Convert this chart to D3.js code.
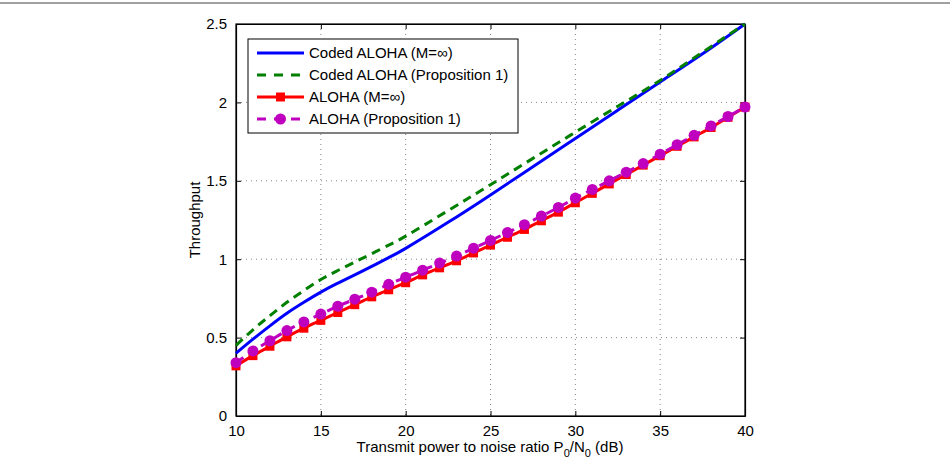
<!DOCTYPE html>
<html>
<head>
<meta charset="utf-8">
<script src="https://cdn.jsdelivr.net/npm/d3@7"></script>
<style>
  body { margin: 0; background: white; }
  svg text { font-family: "Liberation Sans", Arial, Helvetica, sans-serif; }
</style>
</head>
<body>
<script>
// data
const codedDb = [10, 11, 12, 13, 14, 15, 16, 17, 18, 19, 20, 22.5, 25, 27.5, 30, 32.5, 35, 37.5, 40]
const codedInf = [0.40, 0.49, 0.575, 0.655, 0.725, 0.79, 0.847, 0.90, 0.954, 1.01, 1.069, 1.235, 1.41, 1.59, 1.77, 1.95, 2.13, 2.31, 2.50]
const codedProp = [0.45, 0.55, 0.64, 0.725, 0.80, 0.87, 0.928, 0.982, 1.035, 1.09, 1.147, 1.31, 1.475, 1.643, 1.81, 1.975, 2.14, 2.32, 2.50]

const alohaDb = d3.range(10, 41)
const alohaInf = [0.32, 0.385, 0.445, 0.505, 0.56, 0.61, 0.66, 0.71, 0.76, 0.805, 0.85,
                  0.90, 0.945, 0.99, 1.04, 1.09, 1.14, 1.19, 1.245, 1.30, 1.36,
                  1.42, 1.48, 1.54, 1.60, 1.66, 1.72, 1.78, 1.84, 1.905, 1.97]
const alohaProp = [0.34, 0.415, 0.48, 0.545, 0.60, 0.65, 0.70, 0.745, 0.79, 0.84, 0.885,
                   0.93, 0.975, 1.02, 1.07, 1.12, 1.17, 1.22, 1.275, 1.33, 1.39,
                   1.445, 1.50, 1.555, 1.61, 1.67, 1.73, 1.79, 1.85, 1.91, 1.97]

const xTicks = [10, 15, 20, 25, 30, 35, 40]
const yTicks = [0, 0.5, 1, 1.5, 2, 2.5]
const legendLabels = ["Coded ALOHA (M=\u221e)", "Coded ALOHA (Proposition 1)", "ALOHA (M=\u221e)", "ALOHA (Proposition 1)"]

const svg = d3.select("body").append("svg")
    .attr("width", 950)
    .attr("height", 460)

// thin grey rule on top of the page
svg.append("line")
    .attr("x1", 0).attr("x2", 950)
    .attr("y1", 3).attr("y2", 3)
    .style("stroke", "#a0a0a0")
    .style("stroke-width", 2)

const pLeft = 236, pRight = 745, pTop = 24, pBottom = 416

const x = d3.scaleLinear().domain([10, 40]).range([pLeft, pRight])
const y = d3.scaleLinear().domain([0, 2.5]).range([pBottom, pTop])

// grid
svg.selectAll(".vgrid")
    .data(xTicks.slice(1, -1))
    .join("line")
    .attr("class", "vgrid")
    .attr("x1", d => x(d)).attr("x2", d => x(d))
    .attr("y1", pTop).attr("y2", pBottom)
    .style("stroke", "#666")
    .style("stroke-width", 0.8)
    .style("stroke-dasharray", "1,4")

svg.selectAll(".hgrid")
    .data(yTicks.slice(1, -1))
    .join("line")
    .attr("class", "hgrid")
    .attr("x1", pLeft).attr("x2", pRight)
    .attr("y1", d => y(d)).attr("y2", d => y(d))
    .style("stroke", "#666")
    .style("stroke-width", 0.8)
    .style("stroke-dasharray", "1,4")

// axes with inward ticks
svg.append("g")
    .attr("transform", `translate(0,${pBottom})`)
    .call(d3.axisBottom(x).tickValues(xTicks).tickSizeInner(-5).tickSizeOuter(0).tickPadding(9).tickFormat(d3.format("d")))
svg.append("g")
    .attr("transform", `translate(0,${pTop})`)
    .call(d3.axisTop(x).tickValues(xTicks).tickSizeInner(-5).tickSizeOuter(0).tickFormat(""))
svg.append("g")
    .attr("transform", `translate(${pLeft},0)`)
    .call(d3.axisLeft(y).tickValues(yTicks).tickSizeInner(-5).tickSizeOuter(0).tickPadding(9).tickFormat(d => d))
svg.append("g")
    .attr("transform", `translate(${pRight},0)`)
    .call(d3.axisRight(y).tickValues(yTicks).tickSizeInner(-5).tickSizeOuter(0).tickFormat(""))

svg.selectAll(".domain").style("stroke", "#000").style("stroke-width", 1.2)
svg.selectAll(".tick line").style("stroke", "#000")
svg.selectAll(".tick text").style("font-size", "15px").style("fill", "#000")

// box
svg.append("rect")
    .attr("x", pLeft).attr("y", pTop)
    .attr("width", pRight - pLeft).attr("height", pBottom - pTop)
    .style("fill", "none")
    .style("stroke", "#000")
    .style("stroke-width", 1.2)

// series
const line = d3.line().x(d => x(d[0])).y(d => y(d[1])).curve(d3.curveMonotoneX)
const smooth = d3.line().x(d => x(d[0])).y(d => y(d[1])).curve(d3.curveNatural)

const plot = svg.append("g")

plot.append("path")
    .datum(d3.zip(alohaDb, alohaInf))
    .attr("d", line)
    .style("fill", "none")
    .style("stroke", "#ff0000")
    .style("stroke-width", 3)

plot.selectAll(".sq")
    .data(d3.zip(alohaDb, alohaInf))
    .join("rect")
    .attr("class", "sq")
    .attr("x", d => x(d[0]) - 4.5)
    .attr("y", d => y(d[1]) - 4.5)
    .attr("width", 9).attr("height", 9)
    .style("fill", "#ff0000")

plot.append("path")
    .datum(d3.zip(alohaDb, alohaProp))
    .attr("d", line)
    .style("fill", "none")
    .style("stroke", "#bf00bf")
    .style("stroke-width", 3)
    .style("stroke-dasharray", "9,6")

plot.selectAll(".circ")
    .data(d3.zip(alohaDb, alohaProp))
    .join("circle")
    .attr("class", "circ")
    .attr("cx", d => x(d[0]))
    .attr("cy", d => y(d[1]))
    .attr("r", 5.5)
    .style("fill", "#bf00bf")

plot.append("path")
    .datum(d3.zip(codedDb, codedInf))
    .attr("d", smooth)
    .style("fill", "none")
    .style("stroke", "#0000ff")
    .style("stroke-width", 3)

plot.append("path")
    .datum(d3.zip(codedDb, codedProp))
    .attr("d", smooth)
    .style("fill", "none")
    .style("stroke", "#007f00")
    .style("stroke-width", 3)
    .style("stroke-dasharray", "9,6")

// legend
const legend = svg.append("g")
legend.append("rect")
    .attr("x", 248).attr("y", 39)
    .attr("width", 270).attr("height", 94)
    .style("fill", "white")
    .style("stroke", "#000")
    .style("stroke-width", 1)

const styles = [
    { color: "#0000ff", dash: null, marker: null },
    { color: "#007f00", dash: "9,8", marker: null },
    { color: "#ff0000", dash: null, marker: "square" },
    { color: "#bf00bf", dash: "9,8", marker: "circle" }
]

legendLabels.forEach((lab, i) => {
    const ly = 53 + i * 22
    const s = styles[i]
    legend.append("line")
        .attr("x1", 257).attr("x2", 304)
        .attr("y1", ly).attr("y2", ly)
        .style("stroke", s.color)
        .style("stroke-width", 3)
        .style("stroke-dasharray", s.dash)
    if (s.marker == "square") {
        legend.append("rect")
            .attr("x", 280.5 - 4.5).attr("y", ly - 4.5)
            .attr("width", 9).attr("height", 9)
            .style("fill", s.color)
    } else if (s.marker == "circle") {
        legend.append("circle")
            .attr("cx", 280.5).attr("cy", ly).attr("r", 5.5)
            .style("fill", s.color)
    }
    legend.append("text")
        .attr("x", 309).attr("y", ly + 5)
        .style("font-size", "15px")
        .text(lab)
})

// axis labels
svg.append("text")
    .attr("transform", "translate(200,220) rotate(-90)")
    .attr("text-anchor", "middle")
    .style("font-size", "15px")
    .text("Throughput")

const xl = svg.append("text")
    .attr("x", 490).attr("y", 452)
    .attr("text-anchor", "middle")
    .style("font-size", "15px")
xl.append("tspan").text("Transmit power to noise ratio P")
xl.append("tspan").attr("dy", 5).style("font-size", "11px").text("0")
xl.append("tspan").attr("dy", -5).text("/N")
xl.append("tspan").attr("dy", 5).style("font-size", "11px").text("0")
xl.append("tspan").attr("dy", -5).text(" (dB)")
</script>
</body>
</html>
